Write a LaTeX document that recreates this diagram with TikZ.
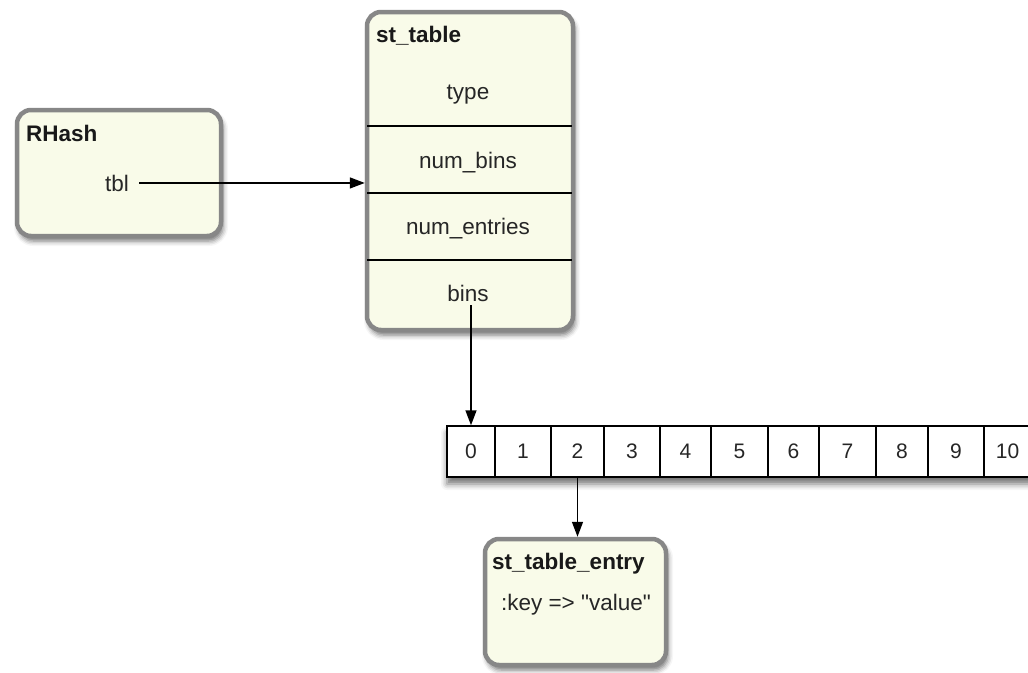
\documentclass[tikz,border=0pt]{standalone}
\usepackage{fontspec}
\setmainfont{Liberation Sans}
\newfontfamily\plainsans{Liberation Sans}
\usetikzlibrary{arrows.meta,shadows.blur}
\definecolor{boxfill}{RGB}{249,251,233}
\definecolor{boxline}{RGB}{135,135,135}
\begin{document}
\begin{tikzpicture}[x=1pt,y=-1pt,
  rbox/.style={draw=boxline, line width=4.5pt, fill=boxfill, rounded corners=14pt, inner sep=0pt,
    blur shadow={shadow xshift=2pt, shadow yshift=-5pt, shadow blur radius=5pt, shadow opacity=55}},
  titletext/.style={font=\bfseries\fontsize{22.5}{26}\selectfont, inner sep=0pt, text=black!90},
  fieldtext/.style={font=\fontsize{22.5}{26}\selectfont, inner sep=4pt, text=black!85},
  cell/.style={draw=black, line width=1.5pt, fill=white, inner sep=0pt,
    font=\fontsize{21}{25}\selectfont, text=black!85},
  sepline/.style={draw=black, line width=1.5pt},
  conn/.style={draw=black, line width=1.5pt, -{Triangle[length=15pt,width=11pt]}}]
\useasboundingbox (0,0) rectangle (1028,672);
\clip (0,0) rectangle (1028,672);
% RHash
\node[rbox, minimum width=204pt, minimum height=126pt] (rhash) at (119,173) {};
\node[titletext, anchor=base west] (rhashT) at (26,141) {RHash};
\node[fieldtext, anchor=base] (tbl) at (117,191) {tbl};
% st_table
\node[rbox, minimum width=206pt, minimum height=318pt] (st) at (470,171) {};
\node[titletext, anchor=base west] (stT) at (376,42) {st\_table};
\node[fieldtext, anchor=base] (type) at (468,99) {type};
\node[fieldtext, anchor=base] (numbins) at (468,168) {num\_bins};
\node[fieldtext, anchor=base] (numentries) at (468,234) {num\_entries};
\node[fieldtext, anchor=base] (bins) at (468,301) {bins};
\draw[sepline] (367,126) -- (572,126);
\draw[sepline] (367,193) -- (572,193);
\draw[sepline] (367,260) -- (572,260);
% array
\path[blur shadow={shadow xshift=0pt, shadow yshift=-7pt, shadow blur radius=6pt, shadow opacity=55}]
  (447,426) rectangle (1040,477);
\foreach \i/\l/\r in {0/447/495,1/495/551,2/551/604,3/604/660,4/660/711,5/711/768,6/768/819,7/819/876,8/876/928,9/928/984,10/984/1031}{
  \pgfmathsetmacro{\w}{\r-\l}
  \pgfmathsetmacro{\cx}{(\l+\r)/2}
  \node[cell, minimum width=\w pt, minimum height=51pt] (c\i) at (\cx,451.5) {\i};
}
% st_table_entry
\node[rbox, minimum width=181pt, minimum height=126pt] (entry) at (575.5,602) {};
\node[titletext, anchor=base west] (entryT) at (492,569) {st\_table\_entry};
\node[fieldtext, anchor=base, font=\plainsans\fontsize{22.5}{26}\selectfont] (kv) at (576,610) {:key => "value"};
% connectors
\draw[conn] ([xshift=6pt]tbl.east) -- (tbl.east -| st.west);
\draw[conn] (bins.south -| c0.north) -- (c0.north);
\draw[conn] (c2.south) -- (c2.south |- entry.north);
\end{tikzpicture}
\end{document}
